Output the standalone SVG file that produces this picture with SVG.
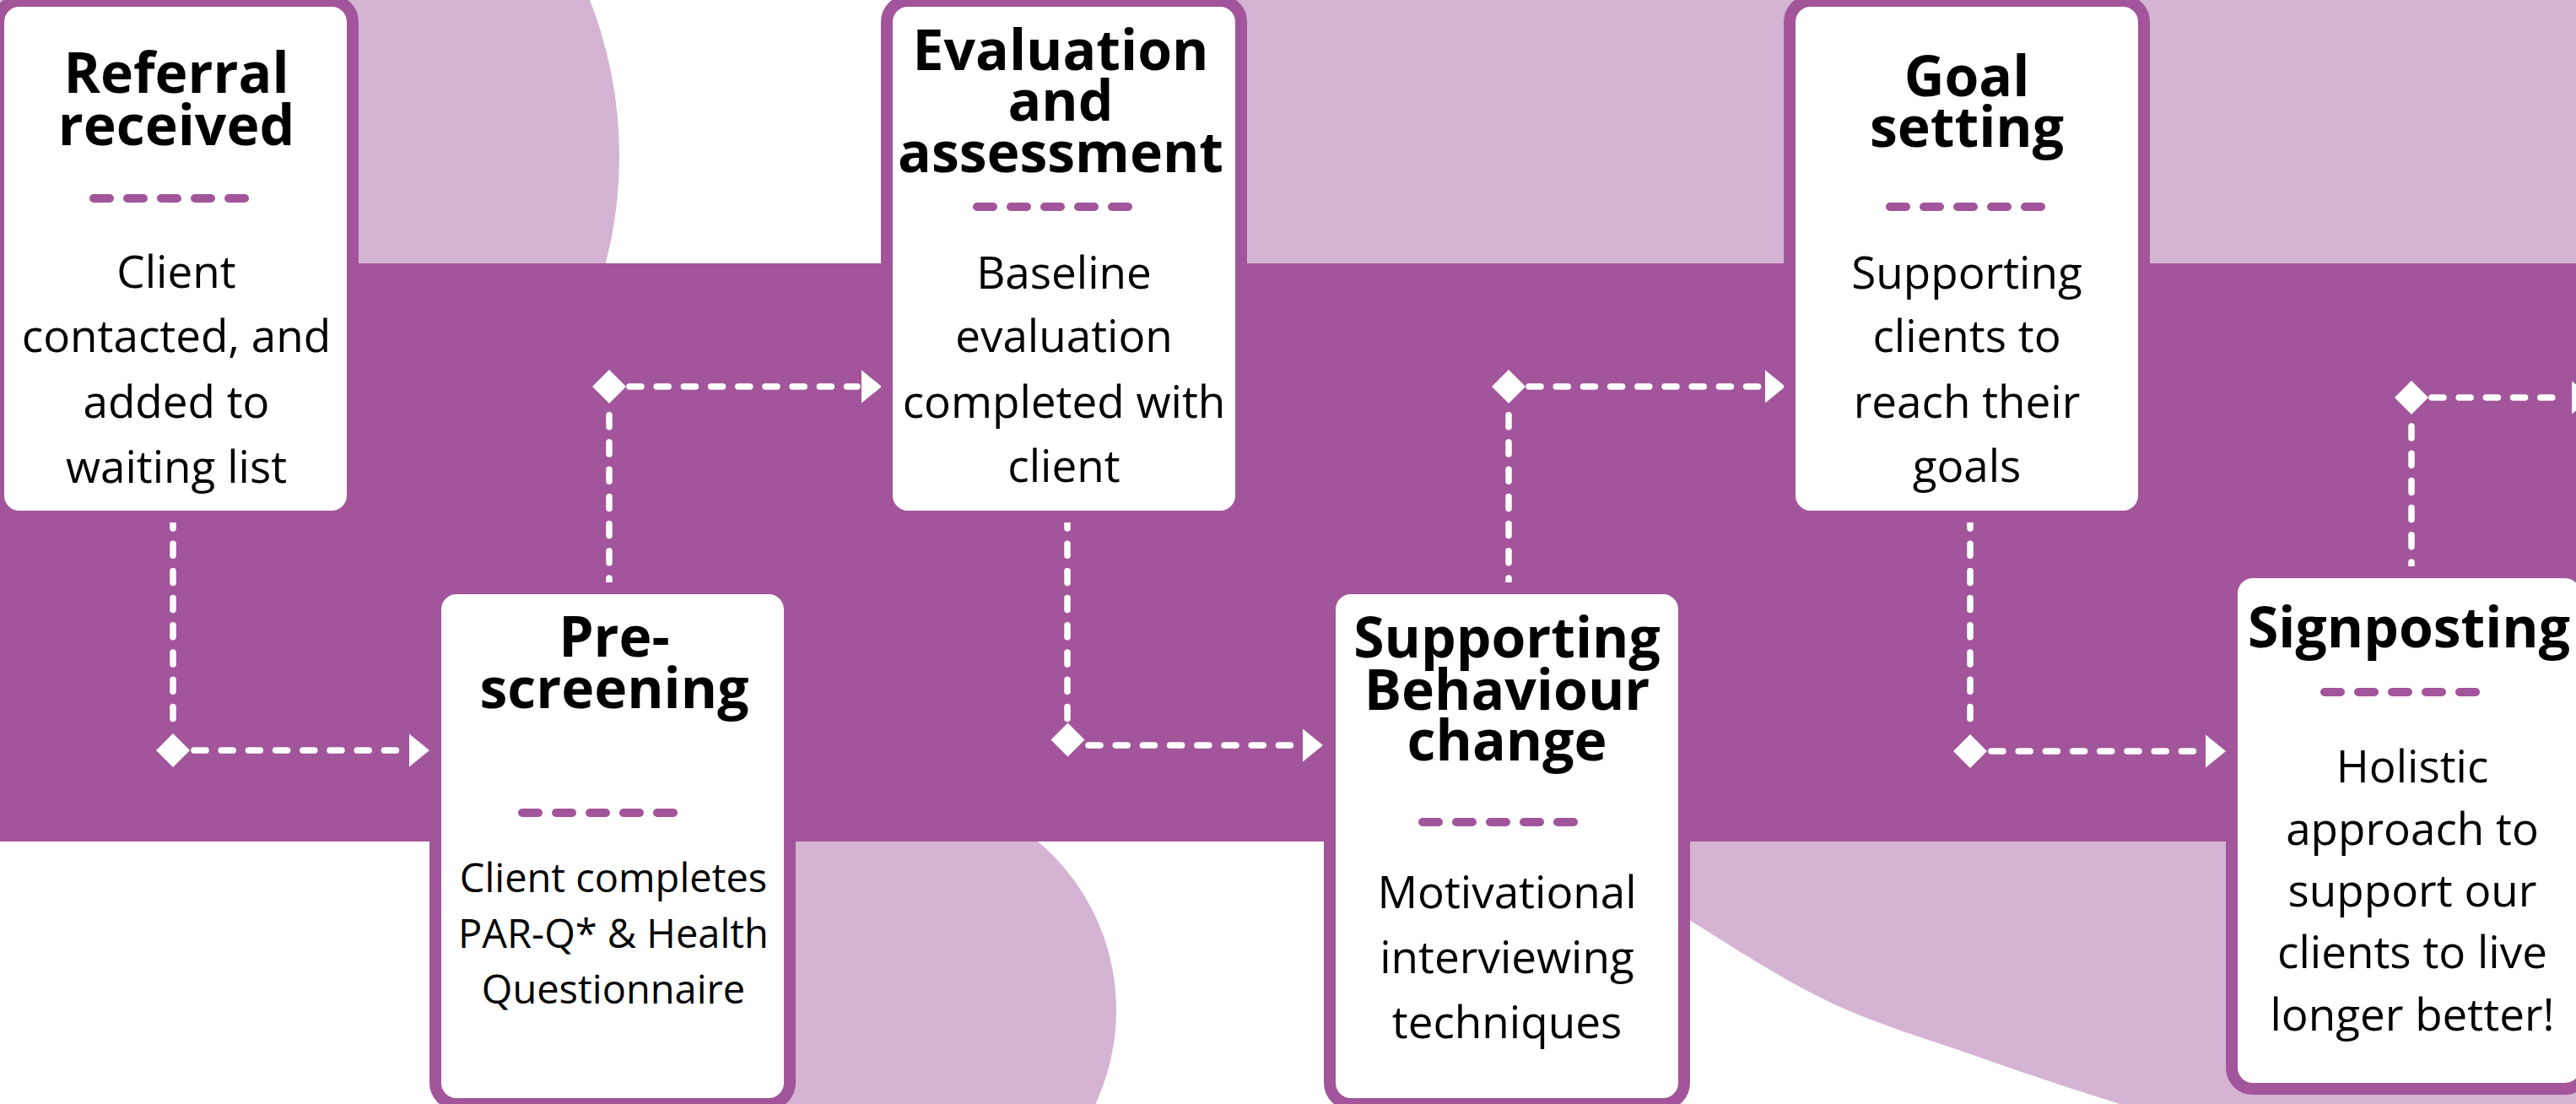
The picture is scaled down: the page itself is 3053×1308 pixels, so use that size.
<svg xmlns="http://www.w3.org/2000/svg" xmlns:xlink="http://www.w3.org/1999/xlink" width="3053" height="1308" viewBox="0 0 3053 1308">
  <style>
    .band { fill: #A2559B; }
    .soft { fill: #D5B3D3; }
    .card { fill: #FFFFFF; stroke: #A2559B; stroke-width: 14; }
    .title { font-family: "Open Sans", "Noto Sans", "Liberation Sans", sans-serif; font-weight: 700; font-size: 66px; fill: #000; text-anchor: middle; }
    .body { font-family: "Open Sans", "Noto Sans", "Liberation Sans", sans-serif; font-weight: 400; font-size: 53px; fill: #000; text-anchor: middle; }
    .body.small { font-size: 47px; }
    .divider { fill: none; stroke: #A2559B; stroke-width: 10; stroke-linecap: round; stroke-dasharray: 19 21; }
    .flow { fill: none; stroke: #FFFFFF; stroke-width: 7.5; stroke-linecap: round; stroke-dasharray: 14 18.2; }
    .tip { fill: #FFFFFF; }
  </style>
  <defs>
    <polygon id="diamond" points="0,-20 20,0 0,20 -20,0"/>
    <polygon id="arrowhead" points="0,-19.5 24,0 0,19.5"/>
  </defs>

  <!-- background -->
  <rect x="0" y="0" width="3053" height="1308" fill="#FFFFFF"/>
  <g id="backdrop">
    <circle class="soft" cx="228" cy="185" r="506"/>
    <rect class="soft" x="1260" y="0" width="1793" height="320"/>
    <circle class="soft" cx="1061" cy="1197" r="262"/>
    <path class="soft" d="M 1930 900 L 1930 1040 L 2002 1090 C 2041.7 1114.5 2110.5 1159.8 2168 1187 C 2225.5 1214.2 2289.7 1232.8 2347 1253 C 2404.3 1273.2 2453.2 1289.3 2512 1308 L 2560 1325 L 3060 1325 L 3060 900 Z"/>
    <rect class="band" x="0" y="312" width="3053" height="685"/>
  </g>

  <!-- connectors -->
  <g id="connectors">
    <path class="flow" d="M 205 612 V 866"/>
    <path class="flow" d="M 230 889 H 480"/>
    <use href="#diamond" class="tip" transform="translate(205 889)"/>
    <use href="#arrowhead" class="tip" transform="translate(485 889)"/>

    <path class="flow" d="M 722 699 V 481"/>
    <path class="flow" d="M 746 458 H 1016"/>
    <use href="#diamond" class="tip" transform="translate(722 458)"/>
    <use href="#arrowhead" class="tip" transform="translate(1021 458)"/>

    <path class="flow" d="M 1265 612 V 852"/>
    <path class="flow" d="M 1290 883 H 1539"/>
    <use href="#diamond" class="tip" transform="translate(1265.5 876.5)"/>
    <use href="#arrowhead" class="tip" transform="translate(1544 883)"/>

    <path class="flow" d="M 1788 699 V 481"/>
    <path class="flow" d="M 1812 458 H 2087"/>
    <use href="#diamond" class="tip" transform="translate(1788 458)"/>
    <use href="#arrowhead" class="tip" transform="translate(2092 458)"/>

    <path class="flow" d="M 2335 612 V 867"/>
    <path class="flow" d="M 2360 890 H 2609"/>
    <use href="#diamond" class="tip" transform="translate(2335 890)"/>
    <use href="#arrowhead" class="tip" transform="translate(2614 890)"/>

    <path class="flow" d="M 2858 680 V 494"/>
    <path class="flow" d="M 2882 471 H 3043"/>
    <use href="#diamond" class="tip" transform="translate(2858 471)"/>
    <use href="#arrowhead" class="tip" transform="translate(3048 471)"/>
  </g>

  <!-- step cards -->
  <g id="referral">
    <rect class="card" x="-2" y="1" width="420" height="611" rx="25"/>
    <text class="title"><tspan x="209" y="110">Referral</tspan><tspan x="209" y="172">received</tspan></text>
    <path class="divider" d="M 111 235 H 290"/>
    <text class="body"><tspan x="209" y="341">Client</tspan><tspan x="209" y="417">contacted, and</tspan><tspan x="209" y="495">added to</tspan><tspan x="209" y="572">waiting list</tspan></text>
  </g>

  <g id="pre-screening">
    <rect class="card" x="516" y="697" width="420" height="611" rx="25"/>
    <text class="title"><tspan x="728" y="778">Pre-</tspan><tspan x="728" y="839">screening</tspan></text>
    <path class="divider" d="M 619 963 H 798"/>
    <text class="body small"><tspan x="727" y="1057">Client completes</tspan><tspan x="727" y="1123">PAR-Q* &amp; Health</tspan><tspan x="727" y="1189">Questionnaire</tspan></text>
  </g>

  <g id="evaluation">
    <rect class="card" x="1051" y="1" width="420" height="611" rx="25"/>
    <text class="title"><tspan x="1257" y="83">Evaluation</tspan><tspan x="1257" y="143">and</tspan><tspan x="1257" y="204">assessment</tspan></text>
    <path class="divider" d="M 1158 245 H 1337"/>
    <text class="body"><tspan x="1261" y="342">Baseline</tspan><tspan x="1261" y="417">evaluation</tspan><tspan x="1261" y="495">completed with</tspan><tspan x="1261" y="571">client</tspan></text>
  </g>

  <g id="behaviour-change">
    <rect class="card" x="1576" y="697" width="420" height="611" rx="25"/>
    <text class="title"><tspan x="1786" y="779">Supporting</tspan><tspan x="1786" y="841">Behaviour</tspan><tspan x="1786" y="901">change</tspan></text>
    <path class="divider" d="M 1686 974 H 1866"/>
    <text class="body"><tspan x="1786" y="1076">Motivational</tspan><tspan x="1786" y="1153">interviewing</tspan><tspan x="1786" y="1230">techniques</tspan></text>
  </g>

  <g id="goal-setting">
    <rect class="card" x="2121" y="1" width="420" height="611" rx="25"/>
    <text class="title"><tspan x="2331" y="114">Goal</tspan><tspan x="2331" y="174">setting</tspan></text>
    <path class="divider" d="M 2240 245 H 2419"/>
    <text class="body"><tspan x="2331" y="342">Supporting</tspan><tspan x="2331" y="417">clients to</tspan><tspan x="2331" y="495">reach their</tspan><tspan x="2331" y="571">goals</tspan></text>
  </g>

  <g id="signposting">
    <rect class="card" x="2645" y="678" width="420" height="612" rx="25"/>
    <text class="title"><tspan x="2855" y="767">Signposting</tspan></text>
    <path class="divider" d="M 2755 820 H 2935"/>
    <text class="body"><tspan x="2859" y="927">Holistic</tspan><tspan x="2859" y="1001">approach to</tspan><tspan x="2859" y="1074">support our</tspan><tspan x="2859" y="1147">clients to live</tspan><tspan x="2859" y="1221">longer better!</tspan></text>
  </g>
</svg>
